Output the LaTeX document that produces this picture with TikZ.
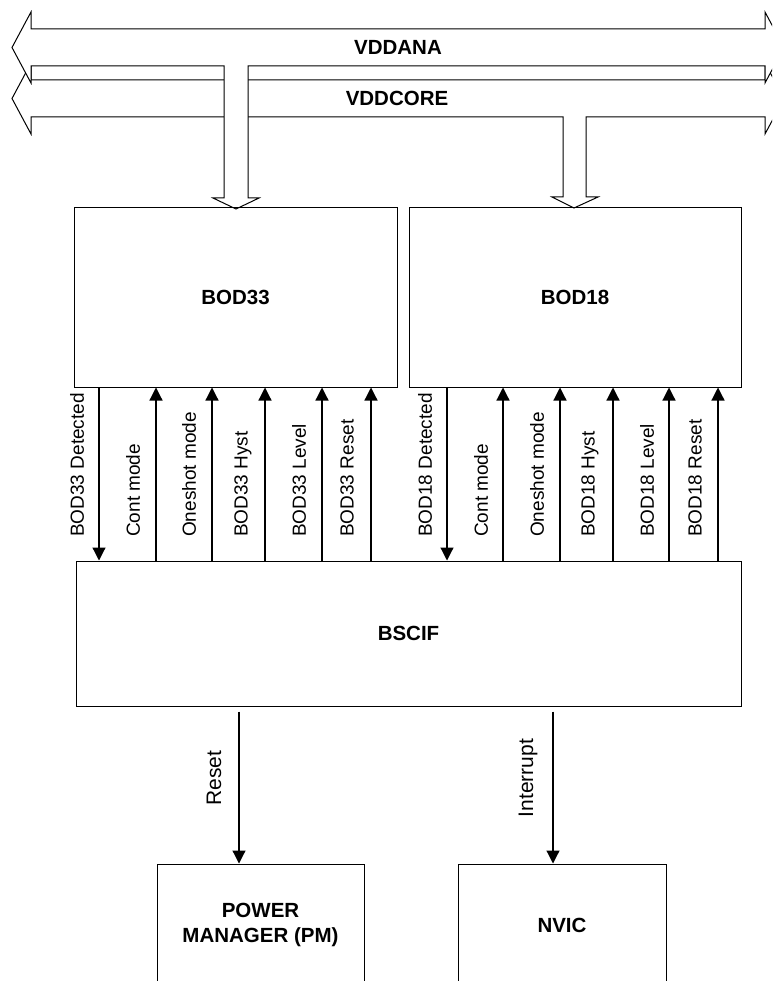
\documentclass[tikz,border=0pt]{standalone}
\usepackage{fontspec}
\setmainfont{Liberation Sans}
\usetikzlibrary{arrows.meta}
\begin{document}
\begin{tikzpicture}[x=1pt,y=-1pt,
 box/.style={draw, line width=1pt, inner sep=0pt, font=\fontsize{20.5}{25}\selectfont\bfseries, align=center},
 sig/.style={line width=1.2pt, -{Triangle[width=13pt,length=13pt]}},
 siglabel/.style={rotate=90, anchor=west, inner sep=0pt, font=\fontsize{19}{22}\selectfont},
 outlabel/.style={rotate=90, anchor=center, inner sep=0pt, font=\fontsize{21}{24}\selectfont},
 bus/.style={draw, fill=white, line width=1pt, line join=miter},
 buslabel/.style={font=\fontsize{20.5}{25}\selectfont\bfseries, inner sep=0pt}]
\clip (0,0) rectangle (772,981);
\fill[white] (0,0) rectangle (772,981);

% VDDCORE bus (drawn first, underneath)
\draw[bus] (31,80) -- (765,80) -- (765,63) -- (784,98.5) -- (765,134) -- (765,117)
  -- (586,117) -- (586,197) -- (598,197) -- (574,208) -- (552,197) -- (563,197)
  -- (563,117) -- (31,117) -- (31,134) -- (12,98.5) -- (31,63) -- cycle;
% VDDANA bus
\draw[bus] (31,29) -- (765,29) -- (765,12) -- (784,47.5) -- (765,83) -- (765,66)
  -- (248,66) -- (248,198) -- (259,198) -- (236,209) -- (213,198) -- (224,198)
  -- (224,66) -- (31,66) -- (31,83) -- (12,47.5) -- (31,12) -- cycle;
\node[buslabel] (vddana) at (398,47.5) {VDDANA};
\node[buslabel] (vddcore) at (397,98.5) {VDDCORE};

% Blocks
\node[box, minimum width=323pt, minimum height=179pt] (bod33) at (235.5,297.5) {BOD33};
\node[box, minimum width=332pt, minimum height=179pt] (bod18) at (575,297.5) {BOD18};
\node[box, minimum width=665pt, minimum height=145pt] (bscif) at (408.5,633.5) {BSCIF};
\node[box, minimum width=207pt, minimum height=122pt] (pm) at (260.5,925) {POWER\\MANAGER (PM)};
\node[box, minimum width=208pt, minimum height=122pt] (nvic) at (562,925) {NVIC};

% BOD33 signals
\draw[sig] (99,0 |- bod33.south) -- (99,0 |- bscif.north);
\foreach \x in {156,212,265,322,371}
  \draw[sig] (\x,0 |- bscif.north) -- (\x,0 |- bod33.south);
\node[siglabel] (l33a) at (77,537) {BOD33 Detected};
\node[siglabel] (l33b) at (133,537) {Cont mode};
\node[siglabel] (l33c) at (189,537) {Oneshot mode};
\node[siglabel] (l33d) at (243,537) {BOD33 Hyst};
\node[siglabel] (l33e) at (299,537) {BOD33 Level};
\node[siglabel] (l33f) at (347,537) {BOD33 Reset};

% BOD18 signals
\draw[sig] (447,0 |- bod18.south) -- (447,0 |- bscif.north);
\foreach \x in {503,560,613,669,718}
  \draw[sig] (\x,0 |- bscif.north) -- (\x,0 |- bod18.south);
\node[siglabel] (l18a) at (425,537) {BOD18 Detected};
\node[siglabel] (l18b) at (481,537) {Cont mode};
\node[siglabel] (l18c) at (537,537) {Oneshot mode};
\node[siglabel] (l18d) at (590,537) {BOD18 Hyst};
\node[siglabel] (l18e) at (647,537) {BOD18 Level};
\node[siglabel] (l18f) at (695,537) {BOD18 Reset};

% Outputs
\draw[sig, shorten <=5pt] (239,0 |- bscif.south) -- (239,0 |- pm.north);
\draw[sig, shorten <=5pt] (553,0 |- bscif.south) -- (553,0 |- nvic.north);
\node[outlabel] (lreset) at (214,778) {Reset};
\node[outlabel] (lint) at (528,778) {Interrupt};
\end{tikzpicture}
\end{document}
